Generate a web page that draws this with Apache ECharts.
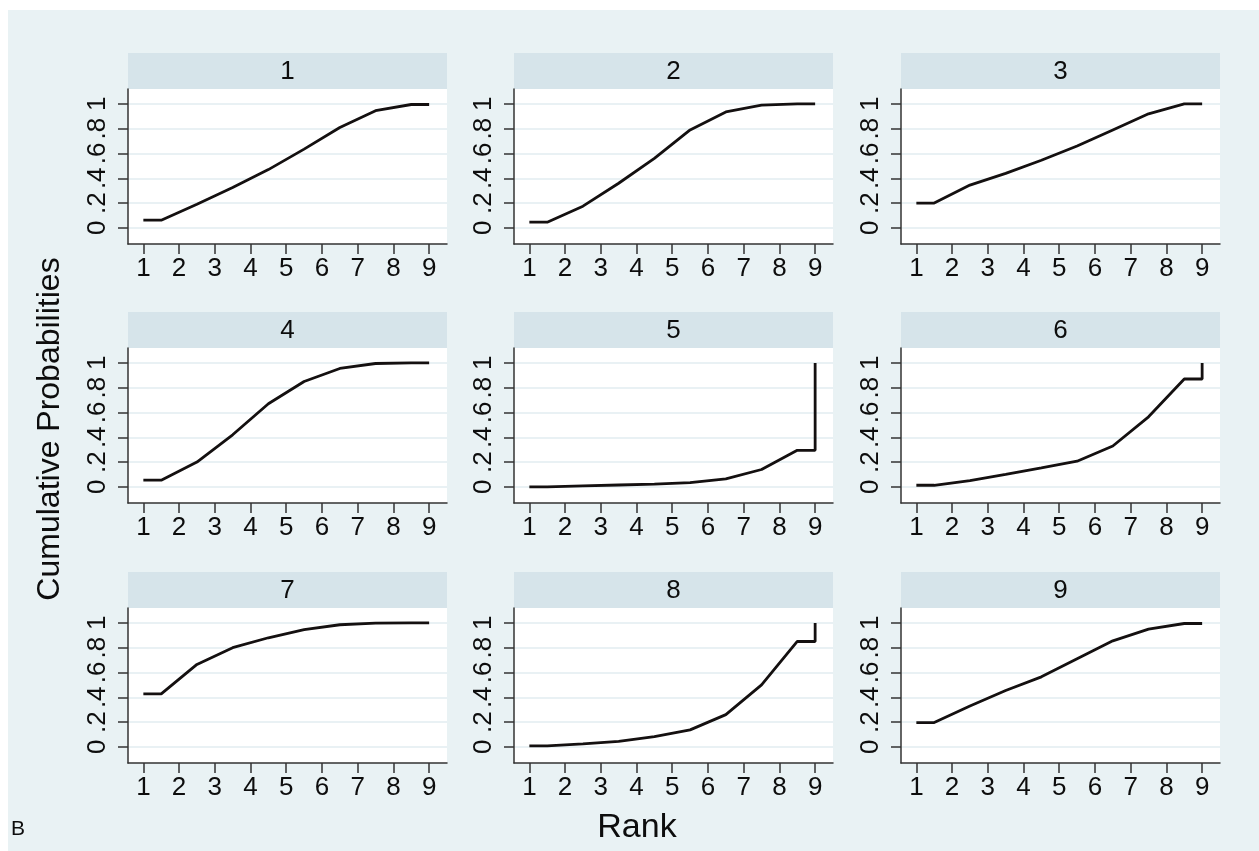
<!DOCTYPE html>
<html><head><meta charset="utf-8">
<script src="https://cdn.jsdelivr.net/npm/echarts@6/dist/echarts.min.js"></script>
<style>html,body{margin:0;padding:0;background:#fff}#c{width:1259px;height:851px}</style>
</head><body><div id="c"></div>
<script>
// ---- data ----
const panelTitles = ['1','2','3','4','5','6','7','8','9'];
const rankTicks = [1,2,3,4,5,6,7,8,9];
const probTicks = [0,0.2,0.4,0.6,0.8,1];
const probLabels = ['0','.2','.4','.6','.8','1'];
// x positions of the plotted cumulative-probability curve
const rankPos = [1,1.5,2.5,3.5,4.5,5.5,6.5,7.5,8.5,9,9];
const cum1 = [0.062,0.062,0.19,0.325,0.47,0.635,0.81,0.945,0.995,0.995,1];
const cum2 = [0.046,0.046,0.175,0.36,0.56,0.79,0.935,0.99,1,1,1];
const cum3 = [0.20,0.20,0.345,0.44,0.545,0.66,0.79,0.92,1,1,1];
const cum4 = [0.054,0.054,0.20,0.42,0.67,0.85,0.955,0.995,1,1,1];
const cum5 = [0.0,0.0,0.008,0.015,0.022,0.035,0.065,0.14,0.295,0.295,1];
const cum6 = [0.013,0.013,0.05,0.10,0.153,0.207,0.33,0.565,0.87,0.87,1];
const cum7 = [0.427,0.427,0.665,0.80,0.88,0.945,0.985,0.998,1,1,1];
const cum8 = [0.008,0.008,0.024,0.045,0.083,0.137,0.26,0.50,0.85,0.85,1];
const cum9 = [0.196,0.196,0.33,0.455,0.565,0.71,0.855,0.95,0.995,0.995,1];
const cumAll = [cum1,cum2,cum3,cum4,cum5,cum6,cum7,cum8,cum9];
const yTitle = 'Cumulative Probabilities';
const xTitle = 'Rank';
const panelTag = 'B';

// ---- layout ----
const FONT = 'Liberation Sans, Arial, Helvetica, sans-serif';
const colLeft = [128, 514, 901];
const rowTop = [89, 348, 608];
const plotW = 319, plotH = 155, stripH = 36;

const grids = [], xAxes = [], yAxes = [], series = [], graphics = [];
graphics.push({type:'rect', z:-10, silent:true, shape:{x:8,y:10,width:1251,height:841}, style:{fill:'#e9f2f4'}});

for (let i = 0; i < 9; i++) {
  const r = Math.floor(i/3), c = i % 3;
  const L = colLeft[c], T = rowTop[r];
  grids.push({left:L, top:T, width:plotW, height:plotH, show:true, backgroundColor:'#ffffff', borderWidth:0, outerBoundsMode:'none', containLabel:false});
  xAxes.push({
    type:'value', gridIndex:i, min:0.57, max:9.5,
    axisLine:{show:true, onZero:false, lineStyle:{color:'#333', width:1.5}},
    axisTick:{show:true, customValues:rankTicks, length:10, lineStyle:{color:'#333', width:1.5}},
    axisLabel:{customValues:rankTicks, margin:12, color:'#0d0d0d', fontSize:26, fontFamily:FONT},
    splitLine:{show:false}
  });
  yAxes.push({
    type:'value', gridIndex:i, min:-0.13, max:1.12,
    axisLine:{show:true, onZero:false, lineStyle:{color:'#333', width:1.5}},
    axisTick:{show:true, customValues:probTicks, length:10, lineStyle:{color:'#333', width:1.5}},
    axisLabel:{customValues:probTicks, rotate:90, margin:17, color:'#0d0d0d', fontSize:26, fontFamily:FONT,
      formatter:(v)=>{ const k = probTicks.findIndex(t=>Math.abs(t-v)<1e-6); return k>=0 ? probLabels[k] : ''; }},
    splitLine:{show:true, lineStyle:{color:'#e2edf1', width:1.5}}
  });
  series.push({
    type:'line', xAxisIndex:i, yAxisIndex:i, showSymbol:false, symbol:'none', animation:false,
    lineStyle:{color:'#141010', width:2.8}, silent:true,
    data: rankPos.map((x,k)=>[x, cumAll[i][k]])
  });
  graphics.push({type:'rect', silent:true, shape:{x:L, y:T-stripH, width:plotW, height:stripH}, style:{fill:'#d6e4ea'}});
  graphics.push({type:'text', silent:true, x:L+plotW/2, y:T-stripH/2+1, style:{text:panelTitles[i], fill:'#0d0d0d', fontSize:26, fontFamily:FONT, textAlign:'center', textVerticalAlign:'middle'}});
}
graphics.push({type:'text', silent:true, x:50, y:429, rotation:Math.PI/2, style:{text:yTitle, fill:'#0d0d0d', fontSize:32, fontFamily:FONT, textAlign:'center', textVerticalAlign:'middle'}});
graphics.push({type:'text', silent:true, x:637, y:828, style:{text:xTitle, fill:'#0d0d0d', fontSize:34, fontFamily:FONT, textAlign:'center', textVerticalAlign:'middle'}});
graphics.push({type:'text', silent:true, x:11, y:829, style:{text:panelTag, fill:'#0d0d0d', fontSize:21, fontFamily:FONT, textAlign:'left', textVerticalAlign:'middle'}});

const chart = echarts.init(document.getElementById('c'), null, {renderer:'canvas'});
chart.setOption({
  backgroundColor:'#ffffff', animation:false,
  grid:grids, xAxis:xAxes, yAxis:yAxes, series:series, graphic:graphics
});
</script></body></html>
